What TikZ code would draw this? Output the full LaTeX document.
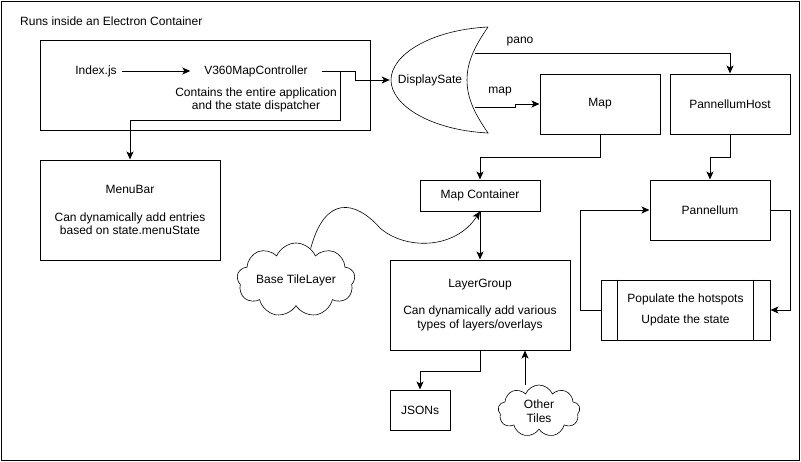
\documentclass[tikz,border=0pt]{standalone}
\usepackage{fontspec}
\setmainfont{Liberation Sans}
\usetikzlibrary{arrows.meta,shapes.symbols}
\begin{document}
\begin{tikzpicture}[x=1pt,y=-1pt,
	font=\fontsize{12pt}{13.5pt}\selectfont,
	every node/.style={inner sep=0pt},
	box/.style={draw,line width=1pt,align=center},
	cloudy/.style={cloud,draw,line width=0.6pt,cloud puffs=9,cloud puff arc=135,cloud ignores aspect,align=center},
	arr/.style={line width=1pt,-{Stealth[length=8pt,width=7pt,inset=2pt]}}]
\useasboundingbox (0,0) rectangle (801,461);
\node[box,anchor=north west,minimum width=797.5pt,minimum height=458.5pt] (electron) at (1,1) {};
\node[anchor=west] (title) at (20,21) {Runs inside an Electron Container};
\node[box,minimum width=330pt,minimum height=90pt] (app) at (205,85) {};
\node[minimum width=52pt] (idx) at (96,71) {Index.js};
\node[minimum width=131pt] (ctrl) at (256,71) {V360MapController};
\node[align=center] (desc) at (256,100) {Contains the entire application\\and the state dispatcher};
\node[box,minimum width=180pt,minimum height=100pt] (menu) at (130,210) {MenuBar\\[14.5pt]Can dynamically add entries\\based on state.menuState};
\node[minimum width=80pt] (disp) at (430,80) {DisplaySate};
\draw[line width=0.6pt] (488,27) .. controls (430,30) and (391,55) .. (391,80) .. controls (391,105) and (430,130) .. (488,133) .. controls (472,110) and (467,95) .. (467,80) .. controls (467,65) and (472,50) .. (488,27);
\node[box,minimum width=120pt,minimum height=60pt] (map) at (600,104) {Map};
\node[box,minimum width=120pt,minimum height=60pt] (phost) at (730,104) {PannellumHost};
\node[box,minimum width=120pt,minimum height=31pt] (mapc) at (480,195.5) {Map Container};
\node[box,minimum width=120pt,minimum height=60pt] (pann) at (710,210) {Pannellum};
\node[box,minimum width=169pt,minimum height=60pt] (pop) at (685.5,310) {Populate the hotspots\\[7.5pt]Update the state};
\draw[line width=1pt] ([xshift=17pt]pop.north west) -- ([xshift=17pt]pop.south west)
	([xshift=-17pt]pop.north east) -- ([xshift=-17pt]pop.south east);
\node[box,minimum width=180pt,minimum height=90pt] (layer) at (480,305) {LayerGroup\\[13.5pt]Can dynamically add various\\types of layers/overlays};
\node[box,minimum width=60pt,minimum height=40pt] (json) at (420,410) {JSONs};
\node[cloudy,minimum width=118pt,minimum height=74pt] (base) at (296,280) {Base TileLayer};
\node[cloudy,minimum width=82pt,minimum height=52pt] (other) at (539,411) {Other\\Tiles};
\node (pano) at (520,42) {pano};
\node (maplbl) at (500,92) {map};
\draw[arr] (idx) -- (ctrl);
\draw[arr] (ctrl.east) -- ++(34,0) |- (disp.west);
\draw[arr] (ctrl.east) -- ++(19,0) -- ++(0,49) -| (menu.north);
\draw[arr] ([xshift=5pt,yshift=27pt]disp.east) -| (phost.north);
\draw[arr] ([xshift=5pt,yshift=-27pt]disp.east) -- ++(40,0) |- (map.west);
\draw[arr] (map.south) -- ++(0,23) -| (mapc.north);
\draw[arr] (phost.south) -- ++(0,23) -| (pann.north);
\draw[arr,line width=0.6pt] (base.65) .. controls (325,195) and (355,200) .. (380,228) .. controls (405,250) and (455,250) .. (mapc.south);
\draw[arr] (mapc) -- (layer);
\draw[arr] (layer.south) -- ++(0,21) -| (json.north);
\coordinate (ot) at ([xshift=-14pt]other.north);
\draw[arr] (ot) -- (ot |- layer.south);
\draw[arr] (pann.east) -- ++(20,0) |- (pop.east);
\draw[arr] (pop.west) -- ++(-20,0) |- (pann.west);
\end{tikzpicture}
\end{document}
